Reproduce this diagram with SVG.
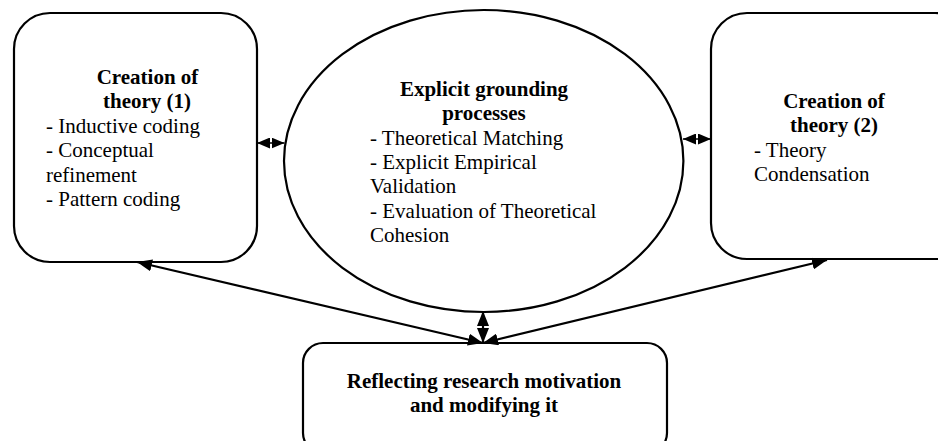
<svg xmlns="http://www.w3.org/2000/svg" width="938" height="441" viewBox="0 0 938 441">
<defs>
<marker id="ah" viewBox="0 0 15 12" refX="15" refY="6" markerWidth="15" markerHeight="12" markerUnits="userSpaceOnUse" orient="auto-start-reverse">
<path d="M0,0 L15,6 L0,12 z" fill="#000"/>
</marker>
<marker id="sh" viewBox="0 0 13 11" refX="13" refY="5.5" markerWidth="13" markerHeight="11" markerUnits="userSpaceOnUse" orient="auto-start-reverse">
<path d="M0,0 L13,5.5 L0,11 z" fill="#000"/>
</marker>
</defs>
<style>
.shape{fill:#fff;stroke:#000;stroke-width:2.2}
.t{font-family:"Liberation Serif","Times New Roman",serif;font-size:21px;fill:#000}
.b{font-weight:bold;text-anchor:middle}
.c{fill:none;stroke:#000;stroke-width:2.2;marker-start:url(#ah);marker-end:url(#ah)}
.s{fill:none;stroke:#000;stroke-width:1.5;marker-start:url(#sh);marker-end:url(#sh)}
</style>
<g id="theory1">
<rect class="shape" x="14" y="13" width="243" height="249" rx="36" ry="36"/>
<text class="t b" x="147.5" y="84">Creation of</text>
<text class="t b" x="147" y="108">theory (1)</text>
<text class="t" x="46" y="133">- Inductive coding</text>
<text class="t" x="46" y="157">- Conceptual</text>
<text class="t" x="46" y="182">refinement</text>
<text class="t" x="46" y="206">- Pattern coding</text>
</g>
<g id="grounding">
<ellipse class="shape" cx="483.7" cy="161" rx="199.7" ry="151"/>
<text class="t b" x="484" y="96">Explicit grounding</text>
<text class="t b" x="484" y="120">processes</text>
<text class="t" x="370" y="145">- Theoretical Matching</text>
<text class="t" x="370" y="169">- Explicit Empirical</text>
<text class="t" x="370" y="193">Validation</text>
<text class="t" x="370" y="218">- Evaluation of Theoretical</text>
<text class="t" x="370" y="242">Cohesion</text>
</g>
<g id="theory2">
<rect class="shape" x="711" y="13" width="260" height="246" rx="36" ry="36"/>
<text class="t b" x="834" y="108">Creation of</text>
<text class="t b" x="834" y="132">theory (2)</text>
<text class="t" x="754" y="157">- Theory</text>
<text class="t" x="754" y="181">Condensation</text>
</g>
<g id="motivation">
<rect class="shape" x="303" y="343" width="364" height="110" rx="20" ry="20"/>
<text class="t b" x="484" y="388">Reflecting research motivation</text>
<text class="t b" x="484" y="412">and modifying it</text>
</g>
<g id="connectors">
<line class="s" x1="257" y1="143" x2="284.5" y2="143"/>
<line class="s" x1="683" y1="139" x2="711" y2="139"/>
<line class="c" x1="483" y1="311" x2="483" y2="343"/>
<line class="c" x1="483" y1="343" x2="137" y2="262"/>
<line class="c" x1="483" y1="343" x2="827" y2="260"/>
</g>
</svg>
